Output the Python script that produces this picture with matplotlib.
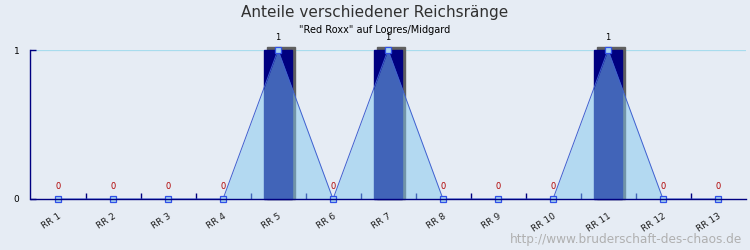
import matplotlib.pyplot as plt
from matplotlib.patches import Rectangle

# Reichsraenge and their share
categories = ['RR 1', 'RR 2', 'RR 3', 'RR 4', 'RR 5', 'RR 6', 'RR 7',
              'RR 8', 'RR 9', 'RR 10', 'RR 11', 'RR 12', 'RR 13']
values = [0, 0, 0, 0, 1, 0, 1, 0, 0, 0, 1, 0, 0]

bg = '#e6ecf4'
navy = '#000080'

fig = plt.figure(figsize=(7.5, 2.5), dpi=100, facecolor=bg)
ax = fig.add_axes([30.5 / 750, 1 - 199 / 250, 715 / 750, 149 / 250])
ax.set_facecolor(bg)

x = list(range(len(categories)))
bw = 0.51

# bars with a little shadow behind them
for xi, v in zip(x, values):
    if v > 0:
        ax.add_patch(Rectangle((xi - bw / 2 + 0.055, 0), bw, v + 0.02,
                               color='#606060', zorder=2, clip_on=False))
        ax.add_patch(Rectangle((xi - bw / 2, 0), bw, v,
                               color=navy, zorder=3, clip_on=False))

# area on top of the bars
ax.fill_between(x, values, 0, color=(130 / 255, 200 / 255, 240 / 255),
                alpha=0.5, zorder=4, linewidth=0)
ax.plot(x, values, color='#4060d0', linewidth=0.7, zorder=5)
ax.plot(x, values, linestyle='none', marker='s', markersize=5,
        markerfacecolor='#a8d4f0', markeredgecolor='#3050e8',
        markeredgewidth=0.9, zorder=6, clip_on=False)

# value labels
for xi, v in zip(x, values):
    ax.annotate(str(v), (xi, v), xytext=(0, 6), textcoords='offset points',
                ha='center', va='bottom', fontsize=6,
                color='#b00000' if v == 0 else 'black', zorder=7,
                annotation_clip=False)

ax.set_xlim(-0.5, len(categories) - 0.5)
ax.set_ylim(0, 1)
ax.axhline(1, color='#a8dced', linewidth=0.9, zorder=1)

for s in ['top', 'right']:
    ax.spines[s].set_visible(False)
for s in ['left', 'bottom']:
    ax.spines[s].set_color(navy)
    ax.spines[s].set_linewidth(1.0)
    ax.spines[s].set_zorder(8)

ax.set_xticks(x)
ax.set_xticklabels(categories, rotation=33, ha='right', fontsize=6.5,
                   color='#202020', rotation_mode='anchor')
ax.set_xticks([i + 0.5 for i in x[:-1]], minor=True)
ax.tick_params(axis='x', which='major', length=0, pad=9)
ax.tick_params(axis='x', which='minor', direction='in', length=4,
               color=navy, width=1)
ax.set_yticks([0, 1])
ax.set_yticklabels(['0', '1'], fontsize=6.5)
ax.tick_params(axis='y', direction='in', length=4, color=navy, width=1,
               pad=8)

fig.text(0.5, 1 - 12 / 250, 'Anteile verschiedener Reichsränge', ha='center',
         va='center', fontsize=11, color='#303030')
fig.text(0.5, 1 - 30 / 250, '"Red Roxx" auf Logres/Midgard', ha='center',
         va='center', fontsize=7, color='black')
fig.text(742 / 750, 1 - 240 / 250, 'http://www.bruderschaft-des-chaos.de',
         ha='right', va='center', fontsize=8.7, color='#b0b0b0')

fig.savefig('out.png', dpi=100, facecolor=bg)
